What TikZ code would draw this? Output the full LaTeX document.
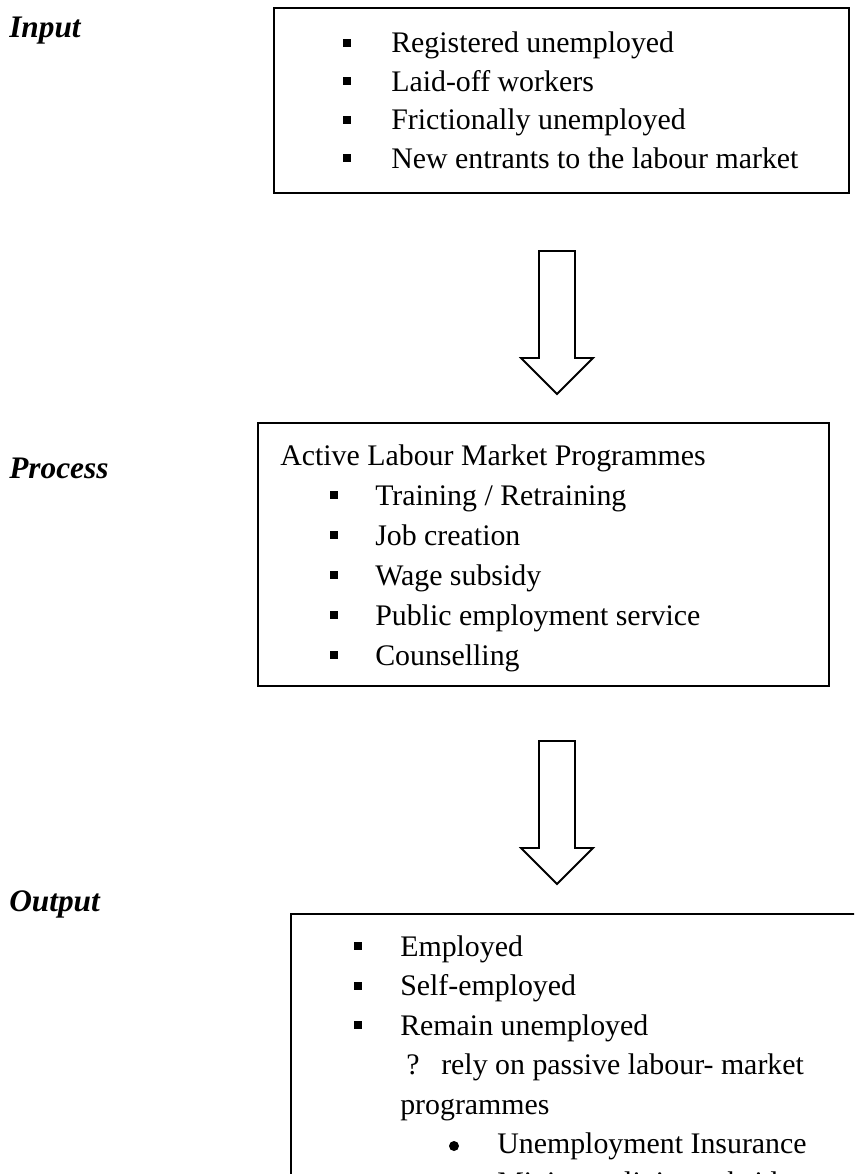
\documentclass[tikz,border=0pt]{standalone}
\usepackage{fontspec}
\setmainfont{Liberation Serif}
\begin{document}
\begin{tikzpicture}[x=0.75pt,y=-0.75pt,
  txt/.style={anchor=base west, inner sep=0pt, font=\fontsize{22.4}{26}\selectfont},
  stage/.style={anchor=base west, inner sep=0pt, font=\fontsize{23.5}{28}\selectfont\bfseries\itshape},
  frame/.style={draw, line width=1.5pt, anchor=north west, inner sep=0pt},
  blockarrow/.style={draw, line width=1.4pt, line join=miter},
  sq/.style={fill, inner sep=0pt, minimum size=6pt},
  dot/.style={circle, fill, inner sep=0pt, minimum size=7.5pt}]
\useasboundingbox (0,0) rectangle (854,1174);
\clip (0,0) rectangle (854,1174);

% ---------- stage labels ----------
\node[stage] (lin)  at (9,37)   {Input};
\node[stage] (lpro) at (9,478)  {Process};
\node[stage] (lout) at (9,911)  {Output};

% ---------- input box ----------
\node[frame, minimum width=431.25pt, minimum height=138.75pt] (inbox) at (273,7) {};
\foreach \y/\t [count=\i] in {52.5/{Registered unemployed}, 91/{Laid-off workers},
    129.5/{Frictionally unemployed}, 168/{New entrants to the labour market}}{
  \node[sq] (inb\i) at (347,\y-10) {};
  \node[txt] (int\i) at (391,\y) {\t};
}

% ---------- arrow from input to process ----------
\coordinate (a1) at (557,251);
\draw[blockarrow] (a1) ++(-18,0) -- ++(36,0) -- ++(0,107) -- ++(18,0)
  -- ++(-36,36) -- ++(-36,-36) -- ++(18,0) -- cycle;

% ---------- process box ----------
\node[frame, minimum width=428.25pt, minimum height=197.25pt] (probox) at (257,422) {};
\node[txt] (prohead) at (280,465) {Active Labour Market Programmes};
\foreach \y/\t [count=\i] in {505/{Training / Retraining}, 545/{Job creation},
    585/{Wage subsidy}, 625/{Public employment service}, 665/{Counselling}}{
  \node[sq] (prb\i) at (334,\y-10) {};
  \node[txt] (prt\i) at (375,\y) {\t};
}

% ---------- arrow from process to output ----------
\coordinate (a2) at (557,741);
\draw[blockarrow] (a2) ++(-18,0) -- ++(36,0) -- ++(0,107) -- ++(18,0)
  -- ++(-36,36) -- ++(-36,-36) -- ++(18,0) -- cycle;

% ---------- output box (runs past the page edge) ----------
\node[frame, minimum width=450pt, minimum height=225pt] (outbox) at (290,913) {};
\foreach \y/\t [count=\i] in {956/{Employed}, 995.5/{Self-employed}, 1035/{Remain unemployed}}{
  \node[sq] (oub\i) at (358,\y-10) {};
  \node[txt] (out\i) at (400,\y) {\t};
}
\node[txt] (q)     at (406,1074.5) {?};
\node[txt] (rely)  at (441,1074.5) {rely on passive labour- market};
\node[txt] (prog)  at (400,1114)   {programmes};
\node[dot] (d1) at (454,1146) {};
\node[txt] (ui)    at (497,1153.5) {Unemployment Insurance};
\node[dot] (d2) at (454,1185) {};
\node[txt] (mls)   at (497,1192.5) {Minimum living subsidy};
\end{tikzpicture}
\end{document}
